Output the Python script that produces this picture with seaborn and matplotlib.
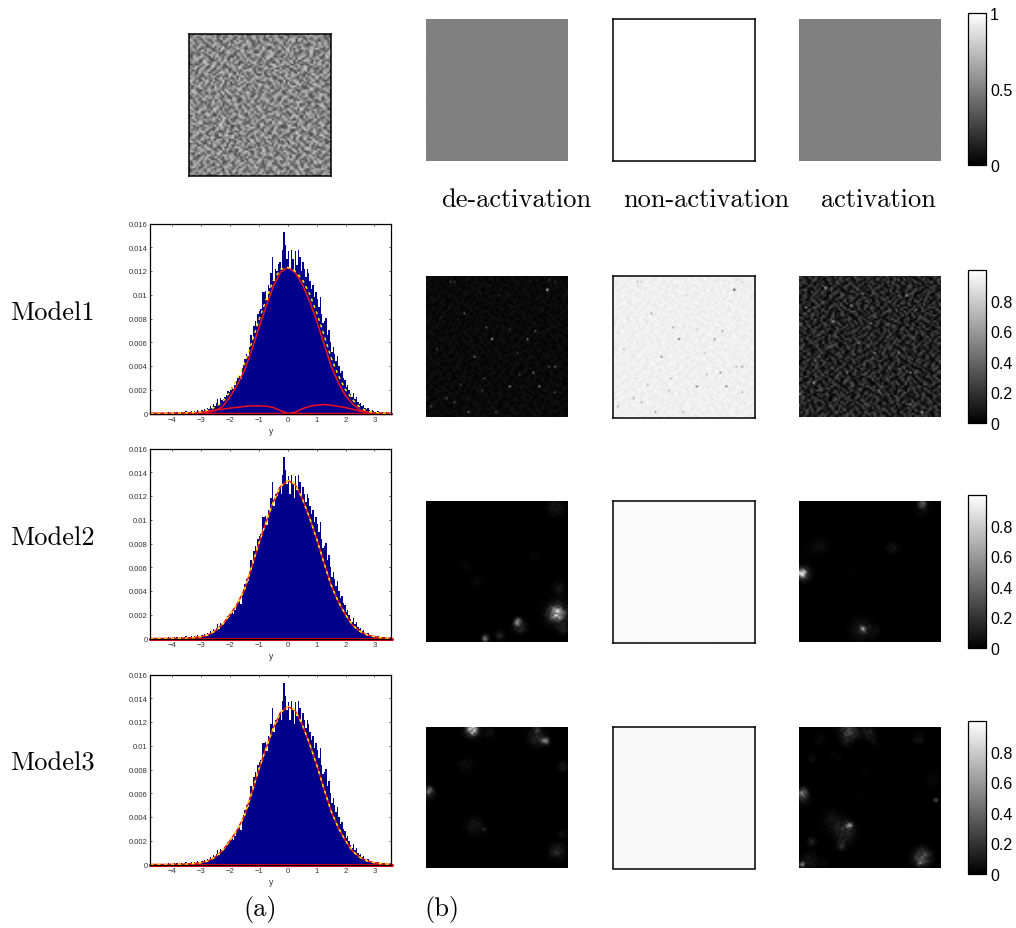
import numpy as np
import matplotlib
matplotlib.use("Agg")
import matplotlib.pyplot as plt
import seaborn as sns

# ---------- histogram heights (units of 1e-4), bins 0.05 wide from -4.75 to 3.6 ----------
HIST = [0,0,0,0,0,0,0,0,0,0,0,0,1,0,0,
        0,1,0,1,0,0,1,0,1,2,0,1,1,2,1,2,1,3,2,1,
        3,2,4,3,5,4,6,5,8,6,9,12,8,13,11,12,14,16,19,18,
        20,22,21,24,27,30,32,29,38,42,46,50,48,56,66,62,74,78,74,84,
        86,88,102,102,103,96,108,106,118,132,112,122,120,126,128,122,138,153,142,130,
        137,122,138,130,118,137,125,138,132,120,128,122,115,122,118,112,105,108,98,102,
        96,90,98,84,76,78,80,66,70,60,52,56,50,44,48,40,34,36,30,28,
        22,24,20,16,14,17,12,14,10,8,9,6,7,5,4,5,3,2,3,2,
        1,1,2,1,0,1,1,0,1,0,0,1]
HIST_LEFT = -4.75
HIST_WIDTH = 0.05

# ---------- fitted curves (units of 1e-4) ----------
CURVE_X = [-4.75,-4.5,-4.25,-4,-3.75,-3.5,-3.25,-3,-2.75,-2.5,-2.25,-2,-1.75,-1.5,-1.25,-1,-.75,-.5,-.25,
           0,.25,.5,.75,1,1.25,1.5,1.75,2,2.25,2.5,2.75,3,3.25,3.5,3.6]
M1_MAIN  = [0,0,0,0,0,.1,.2,.5,1,2.5,6,14,24,36,53,72,90,107,119,
            123,119,109,95,78,59,40,26,15,8,3,1,.3,.1,0,0]
M1_LEFT  = [0,0,0,.1,.2,.4,.6,1,2,3,3.7,4.5,5.2,6,6.4,6.5,6.2,5,2.5,
            0,0,0,0,0,0,0,0,0,0,0,0,0,0,0,0]
M1_RIGHT = [0,0,0,0,0,0,0,0,0,0,0,0,0,0,0,0,0,0,0,
            0,1,4,6,7,7.5,7,6,5,3.5,2,1,.5,.2,.1,0]
M1_TOTAL = [0,0,0,.1,.2,.5,.8,1.5,3,5.5,9.7,18.5,29,42,59.5,78.5,96,112,121.5,
            123,120,113,101,85,66.5,47,32,20,11.5,5,2,.8,.3,.1,0]
M23_MAIN = [0,0,0,.1,.2,.4,.8,1.5,3,6.5,12,20,29,41,60,80,98,115,128,
            133,130,118,102,84,64,45,31,20,11,6,3,1.5,.6,.2,.1]
ZEROS    = [0]*35

X_TICKS = [-4,-3,-2,-1,0,1,2,3]
Y_TICKS = [0,.002,.004,.006,.008,.01,.012,.014,.016]

# ---------- image texture, digits read as grey levels ----------
NOISE_ROWS = [
"537284615392748163528497315268493715",
"846153729461825374916283547192638452",
"295738461672943815367419258346172964",
"618342975135762948251836974625381739",
"473926158487193562748261395817492635",
"352817694263548179536947126358274916",
"789461325916283745129378465192846357",
"164592738543716294863152749463715928",
"528371946278495163742685318279536481",
"931648257615328947356194872546183279",
"476295183394867251129473568731295846",
"283714659752136498675328194368479152",
"615982374168492735342761985924153768",
"749356128437265891786145329573826914",
"392148765926573148251938476147692358",
"856237491385914627463287159682435971",
"147569382619427853975361842354718926",
"528134967274368195138649257896253147",
"963481275745821639562497318427361895",
"371856942136759482817253694593148762",
"684297153528431967349876125261975384",
"295613874964187325672314859738462516",
"417952638352694178135928476586273941",
"736184529681375942864571293142956387",
"852473196247916835297346581379825164",
"169328745713589264541892637925417638",
"483765912569243718786125349618374295",
"947216583324678195329574816452869371",
"261593847891352476653218974736125948",
"735849261467192583184763529285941637",
"518362794235748916976425183649273185",
"842971356976314258312687495173586429",
"396154728143829675758931246824617953",
"674285193582476931429516873357294168",
"127938465861293547635742918496138572",
"583461729349175682971384256718526394",
]
ACT_ROWS = [
"204130520413025104320152041302510432",
"130251042031520413204310520213041025",
"421302105240130251031420315041203102",
"102043125013204120534102041250130421",
"310520413420153020120435120304102531",
"053102304105241031402103250410523014",
"240315021302130524310520132053014203",
"132041530420512301024132504120321052",
"401253104135020413520401312403150241",
"215030241203154023103254020135041302",
"032410523014203102451302415203102450",
"120341025102430521302103240310524103",
"503120413250142031204152031402130215",
"241053201304120524310302415031520304",
"130241530421035102043120302510241032",
"402135012503214031520415201342053120",
"215304120130425102103024134025102403",
"031420513402103241530210520413204125",
"420130245103521304021435012305124031",
"153024103214030521403102340125031204",
"204135210430125043120524013402413052",
"312041053120342102530410250130524103",
"051320412503104230412031342051203140",
"420153024132051420153204105230314025",
"134205130410325031024153021403412053",
"203041524031204152430120354012030241",
"410325102530412031204351024130521304",
"025130413204150423012403120542013052",
"341204025130241035142530214031520413",
"120534210423051302031204153024103254",
"403102351024120413520341025130240132",
"251340120530314025103215040231052041",
"032051423104502131420304125103412503",
"410230315240123045203120431025130241",
"125403102135041203012541302053120415",
"304120541302530412350204103124052103",
]

# ---------- bright single cells (col, row, level) on a 72-cell grid ----------
M1_DE_SPOTS = [(60.7,7.3,.8),(33,32,.6),(51,32,.45),(55,28,.35),(24,41,.4),(65,46,.4),(54,49,.35),
               (42,56,.5),(57,56,.45),(19,19,.3),(30,26,.3),(10,62,.3),(14,64,.3),(21,69,.4),(35,69,.3),
               (2,66,.25),(29,52,.25),(28,58,.25),(17,55,.2),(46,39,.2),(62,46,.25),(65,59,.25),(12,3,.2),
               (14,3,.2),(32,5,.15),(42,27,.2),(5,37,.2),(65,3,.2),(62,2,.2),(37,10,.15),(7,21,.15),(47,50,.2)]
M1_ACT_SPOTS = [(17,23,.6),(13,5.5,.45),(3,15.5,.4),(25.5,15,.4),(35.5,24.5,.4),(14.7,36,.4),(29.7,34,.4),
                (49.7,39,.4),(38,39,.35),(8,43,.4),(55.5,49,.45),(7,54,.35),(39.7,58,.4),(0.5,60,.3),
                (62,69,.5),(56,65,.35),(33,65,.35),(54,10,.35),(70,3,.3),(32,9,.4),(59,17,.35),(24,49,.3),(49.7,2,.3)]

# ---------- blobs (col, row, spread, peak) ----------
M2_DE = [(66,57,3,.75),(66,57,6,.25),(46,61,1.5,.7),(47,64,3,.3),(29.5,69.5,1.5,.7),(37,68,2,.3),(67,44,3,.2),
         (65,3,4,.2),(69,65,2,.25),(55,28,3,.1),(25,41,3,.12),(20,33,3,.1),(55,20,2,.06)]
M2_ACT = [(1.3,36.7,1.5,.85),(1.6,36.7,3.5,.4),(32,65,1.2,.6),(31,65,5,.22),(38,66,2.5,.12),(62,1.5,1.5,.5),
          (62,3,4,.15),(47,24,3,.18),(10,23,4,.15),(3,26,3,.06),(27,36,1,.1)]
M3_DE = [(23,1.3,2,.85),(23,1.3,4,.3),(60,7,1.5,.7),(55.5,5.5,4,.28),(56,1,1.5,.3),(1,32,1.5,.6),(1.4,34,3,.2),
         (20,19,4,.13),(69,20,2.5,.2),(66,63,3.5,.3),(69,54,2,.2),(24,50,4,.2),(29,52,1,.25),(32,3,2,.2)]
M3_ACT = [(25,2,4,.45),(23,8,2,.15),(35,3,3,.25),(38,8,2,.12),(10,6,3,.12),(6,16,2,.15),(18,15,4,.08),
          (1.3,33,2,.55),(2,36,3,.25),(25,50,1.2,.75),(23,53,5,.28),(16,47,5,.15),(21,60,2,.3),(6,58,2,.25),
          (1,69.5,1,.8),(5,68,4,.2),(13,69,2,.1),(62,66,4,.5),(60.5,69,1,.5),(69,37,1,.55),(68,26,4,.1),
          (60,6,2.5,.2),(33,23,2,.08),(31,34,2,.07)]

MODEL_LABELS = ["Model1", "Model2", "Model3"]
COLUMN_LABELS = ["de-activation", "non-activation", "activation"]

# ---------- style ----------
sns.set_theme(style="white")
plt.rcParams["font.family"] = ["Liberation Sans", "DejaVu Sans"]
W, H = 1016, 929
fig = plt.figure(figsize=(W/100, H/100), dpi=100, facecolor="white")


def rect(x0, y0, x1, y1):
    return [x0/W, 1-y1/H, (x1-x0)/W, (y1-y0)/H]


def grid(rows):
    """Interleave four shifted copies of the typed digits onto a 72-cell grid."""
    g = np.array([[int(c) for c in r] for r in rows], float)
    out = np.zeros((72, 72))
    out[0::2, 0::2] = g
    out[1::2, 0::2] = np.roll(g, (7, 11), (0, 1))
    out[0::2, 1::2] = np.roll(g, (17, 5), (0, 1))
    out[1::2, 1::2] = np.roll(g, (25, 23), (0, 1))
    return out


def blobs(items):
    yy, xx = np.mgrid[0:72, 0:72]
    out = np.zeros((72, 72))
    for c, r, s, p in items:
        s = s*.85
        out += p*np.exp(-((xx-c)**2+(yy-r)**2)/(2*s*s))
    return np.clip(out, 0, 1)**1.4


def spots(items):
    out = np.zeros((72, 72))
    for c, r, v in items:
        out[int(round(r)), int(round(c))] = v
    return out


def panel(x0, y0, data, border=False):
    ax = fig.add_axes(rect(x0, y0+1, x0+142, y0+143))
    im = ax.imshow(data, cmap="gray", vmin=0, vmax=1, aspect="auto", interpolation="bilinear")
    ax.set_xticks([])
    ax.set_yticks([])
    for s in ax.spines.values():
        s.set_visible(border)
        s.set_color("black")
        s.set_linewidth(1.1)
    return im


def colorbar(im, y0, y1, ticks, labels):
    cax = fig.add_axes(rect(968, y0, 986, y1))
    cb = fig.colorbar(im, cax=cax)
    cb.set_ticks(ticks)
    cb.set_ticklabels(labels)
    cb.ax.tick_params(labelsize=11.5, length=2, direction="in", pad=3, width=.6, colors="black", right=True, left=True)
    cb.outline.set_linewidth(.9)
    cb.outline.set_edgecolor("black")


def hist_panel(y0, curves, dashed, base_lw, base_color):
    ax = fig.add_axes(rect(150.2, y0+.5, 391.2, y0+190.5))
    edges = [HIST_LEFT+i*HIST_WIDTH for i in range(len(HIST)+1)]
    centers = [e+HIST_WIDTH/2 for e in edges[:-1]]
    heights = [h*1e-4 for h in HIST]
    sns.histplot(x=centers, weights=heights, bins=edges, color="#00008c", alpha=1, linewidth=0, ax=ax)
    xs = CURVE_X
    sns.lineplot(x=xs, y=ZEROS, color=base_color, lw=base_lw, ax=ax, estimator=None, sort=False, clip_on=False)
    for c in curves:
        sns.lineplot(x=xs, y=[v*1e-4 for v in c], color="#f01020", lw=1.1, ax=ax,
                     estimator=None, sort=False, clip_on=False)
    sns.lineplot(x=xs, y=[v*1e-4 for v in dashed], color="#ffe800", lw=1.1, ls=(0, (2, 2.5)),
                 ax=ax, estimator=None, sort=False, clip_on=False)
    ax.set_xlim(-4.76, 3.58)
    ax.set_ylim(0, .016)
    ax.set_xticks(X_TICKS)
    ax.set_xticklabels(["\u2212%d" % -t if t < 0 else str(t) for t in X_TICKS])
    ax.set_yticks(Y_TICKS)
    ax.set_yticklabels(["%g" % t for t in Y_TICKS])
    ax.set_xlabel("y", fontsize=6.2, labelpad=2, color="#333333")
    ax.set_ylabel("")
    ax.tick_params(axis="both", labelsize=5.5, length=1.6, width=.5, direction="in", pad=2,
                   top=True, right=True, bottom=True, left=True, labelcolor="#333333")
    for s in ax.spines.values():
        s.set_visible(True)
        s.set_color("black")
        s.set_linewidth(.9)


# ---------- top row ----------
noise = grid(NOISE_ROWS)
act_tex = grid(ACT_ROWS)
im = panel(189, 34, np.clip(.5+.055*(noise-4.5), 0, 1), border=True)
gray = np.full((72, 72), .5)
panel(426, 18.5, gray)
panel(613, 18.5, np.ones((72, 72)), border=True)
panel(799, 18.5, gray)
colorbar(im, 14, 166, [0, .5, 1], ["0", "0.5", "1"])

# ---------- Model 1 ----------
hist_panel(224, [M1_MAIN, M1_LEFT, M1_RIGHT], M1_TOTAL, 1.0, "#a01050")
m1_de = .008*noise+spots(M1_DE_SPOTS)
m1_act = np.clip(.03+.055*act_tex+spots(M1_ACT_SPOTS), 0, 1)
panel(426, 275.5, m1_de)
panel(613, 275.5, np.clip(.985-.006*noise-.9*spots(M1_DE_SPOTS)-.1*m1_act, 0, 1), border=True)
im1 = panel(799, 275.5, m1_act)
CB_T = [0, .2, .4, .6, .8]
CB_L = ["0", "0.2", "0.4", "0.6", "0.8"]
colorbar(im1, 271, 424, CB_T, CB_L)

# ---------- Model 2 ----------
tex = .75*(.5+.11*noise)
hist_panel(449, [M23_MAIN], M23_MAIN, 2.2, "#e00018")
panel(426, 500.5, np.clip(blobs(M2_DE)*tex, 0, 1))
panel(613, 500.5, np.full((72, 72), .98), border=True)
im2 = panel(799, 500.5, np.clip(blobs(M2_ACT)*tex, 0, 1))
colorbar(im2, 496, 649, CB_T, CB_L)

# ---------- Model 3 ----------
hist_panel(675, [M23_MAIN], M23_MAIN, 2.2, "#e00018")
panel(426, 726.5, np.clip(blobs(M3_DE)*tex, 0, 1))
panel(613, 726.5, np.full((72, 72), .975), border=True)
im3 = panel(799, 726.5, np.clip(blobs(M3_ACT)*tex, 0, 1))
colorbar(im3, 722, 875, CB_T, CB_L)

# ---------- texts ----------
SERIF = ["cmr10", "DejaVu Serif"]
FS = 19
for lab, y in zip(MODEL_LABELS, [313.5, 538.5, 763.5]):
    fig.text(10/W, 1-y/H, lab, fontsize=FS, family=SERIF, ha="left", va="center", color="black")
for lab, x in zip(COLUMN_LABELS, [516, 706, 878]):
    fig.text(x/W, 1-200.5/H, lab, fontsize=FS, family=SERIF, ha="center", va="center", color="black")
fig.text(260/W, 1-910/H, "(a)", fontsize=FS, family=SERIF, ha="center", va="center", color="black")
fig.text(442/W, 1-910/H, "(b)", fontsize=FS, family=SERIF, ha="center", va="center", color="black")

fig.savefig("out.png", dpi=100, facecolor="white")
